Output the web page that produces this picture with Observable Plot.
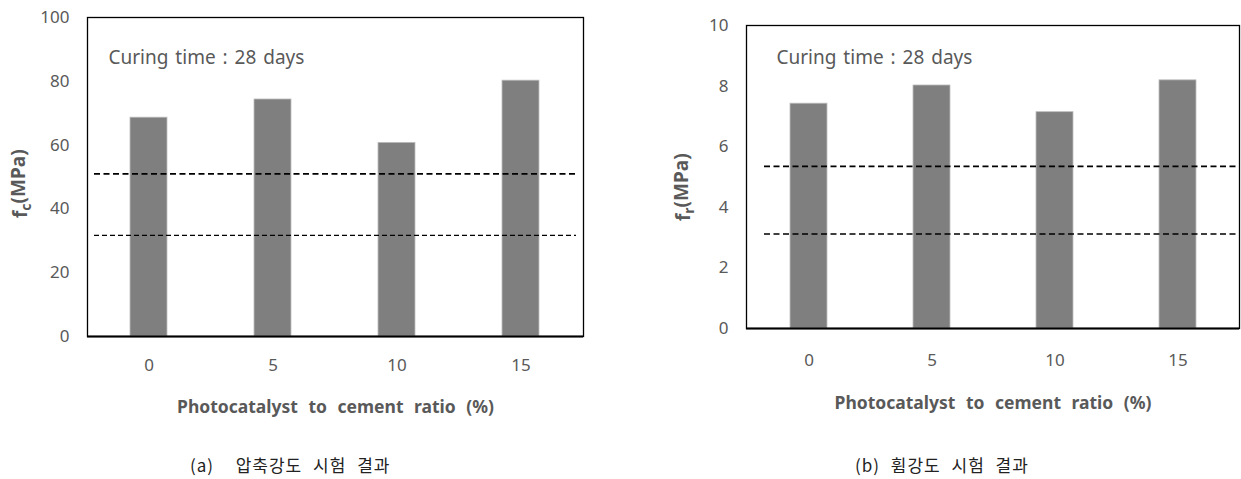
<!DOCTYPE html>
<html>
<head>
<meta charset="utf-8">
<script src="https://cdn.jsdelivr.net/npm/d3@7"></script>
<script src="https://cdn.jsdelivr.net/npm/@observablehq/plot@0.6"></script>
<style>
  html, body { margin: 0; padding: 0; background: #fff; }
  #wrap { position: relative; width: 1241px; height: 479px; font-family: "Noto Sans", "Noto Sans CJK KR", sans-serif; }
  .panel { position: absolute; top: 0; }
  .caption { position: absolute; font-family: "Noto Sans CJK KR", sans-serif; font-size: 17px; color: #222; white-space: pre; line-height: 1; letter-spacing: 1px; word-spacing: 6px; }
  .xlab text { word-spacing: 6px; }
  .curing text { word-spacing: 2px; }
</style>
</head>
<body>
<div id="wrap"></div>
<script>
// ---- data ----
const ratios = ["0", "5", "10", "15"];
const fcValues = [68.6, 74.3, 60.7, 80.2];
const frValues = [7.42, 8.02, 7.14, 8.19];
const fcRefLines = [51.0, 31.7];
const frRefLines = [5.35, 3.12];
const fcTicks = [0, 20, 40, 60, 80, 100];
const frTicks = [0, 2, 4, 6, 8, 10];
const curingText = "Curing time : 28 days";
const xLabelText = "Photocatalyst to cement ratio (%)";
const captions = ["(a)  압축강도 시험 결과", "(b) 휨강도 시험 결과"];

const grey = "#595959";

function makePanel(opts) {
  const rows = ratios.map((r, i) => ({ratio: r, value: opts.values[i]}));
  const H = 430;
  const plot = Plot.plot({
    width: opts.width,
    height: H,
    marginLeft: opts.ml,
    marginRight: opts.mr,
    marginTop: opts.mt,
    marginBottom: H - opts.bottom,
    style: {fontFamily: "'Noto Sans', 'Noto Sans CJK KR', sans-serif", fontSize: "17px", color: grey, background: "white"},
    x: {domain: ratios, paddingInner: 0.7, paddingOuter: 0.35, label: null},
    y: {domain: opts.domain, label: null},
    marks: [
      Plot.barY(rows, {x: "ratio", y: "value", fill: "#7f7f7f", stroke: "#bdbdbd", strokeWidth: 0.8}),
      Plot.ruleY([opts.refs[0]], {stroke: "#000", strokeWidth: opts.dash1w, strokeDasharray: opts.dash1, insetLeft: opts.inL, insetRight: opts.inR}),
      Plot.ruleY([opts.refs[1]], {stroke: "#000", strokeWidth: opts.dash2w, strokeDasharray: opts.dash2, insetLeft: opts.inL, insetRight: opts.inR}),
      Plot.frame({stroke: "#000", strokeWidth: 1.3}),
      Plot.ruleY([0], {stroke: "#000", strokeWidth: 2}),
      Plot.axisY({ticks: opts.ticks, tickSize: 0, tickPadding: opts.yPad, label: null, fill: grey}),
      Plot.axisX({tickSize: 0, tickPadding: opts.xPad, label: null, fill: grey}),
      Plot.text([curingText], {frameAnchor: "top-left", textAnchor: "start", lineAnchor: "middle", dx: opts.cdx, dy: opts.cdy, fontSize: 19, fill: grey, className: "curing"}),
      Plot.text([xLabelText], {frameAnchor: "bottom", lineAnchor: "middle", dy: opts.xlDy, fontWeight: "bold", fontSize: 17.5, fill: grey, className: "xlab"}),
      Plot.text(["f"], {frameAnchor: "left", rotate: -90, textAnchor: "start", lineAnchor: "middle", dx: opts.ylDx, dy: opts.ylDy, fontWeight: "bold", fontSize: 19, fill: grey, className: "ylab"})
    ]
  });
  // build subscript label
  const t = d3.select(plot).select("g.ylab text");
  t.text(null);
  t.append("tspan").text("f");
  t.append("tspan").attr("dy", "0.3em").attr("font-size", 14).text(opts.sub);
  t.append("tspan").attr("dy", "-0.3em").text("(MPa)");
  const div = document.createElement("div");
  div.className = "panel";
  div.style.left = opts.left + "px";
  div.appendChild(plot);
  return div;
}

const wrap = document.getElementById("wrap");
wrap.appendChild(makePanel({
  left: 0, width: 600, ml: 87, mr: 17, mt: 17, bottom: 336,
  values: fcValues, domain: [0, 100], ticks: fcTicks, refs: fcRefLines,
  dash1w: 1.7, dash1: "6,3.5", dash2w: 1.1, dash2: "5,3", inL: 7, inR: 7,
  yPad: 18, xPad: 22, cdx: 21, cdy: 40, xlDy: 71, ylDx: -67, ylDy: 41, sub: "c"
}));
wrap.appendChild(makePanel({
  left: 620, width: 621, ml: 126, mr: 2, mt: 25, bottom: 328,
  values: frValues, domain: [0, 10], ticks: frTicks, refs: frRefLines,
  dash1w: 1.6, dash1: "6,3.5", dash2w: 1.6, dash2: "6,3.5", inL: 18, inR: 0,
  yPad: 18, xPad: 25, cdx: 30, cdy: 32, xlDy: 75, ylDx: -63, ylDy: 44, sub: "r"
}));

[[190, 456, 0], [855, 456, 1]].forEach(([x, y, i]) => {
  const c = document.createElement("div");
  c.className = "caption";
  c.style.left = x + "px";
  c.style.top = y + "px";
  c.textContent = captions[i];
  wrap.appendChild(c);
});
</script>
</body>
</html>
